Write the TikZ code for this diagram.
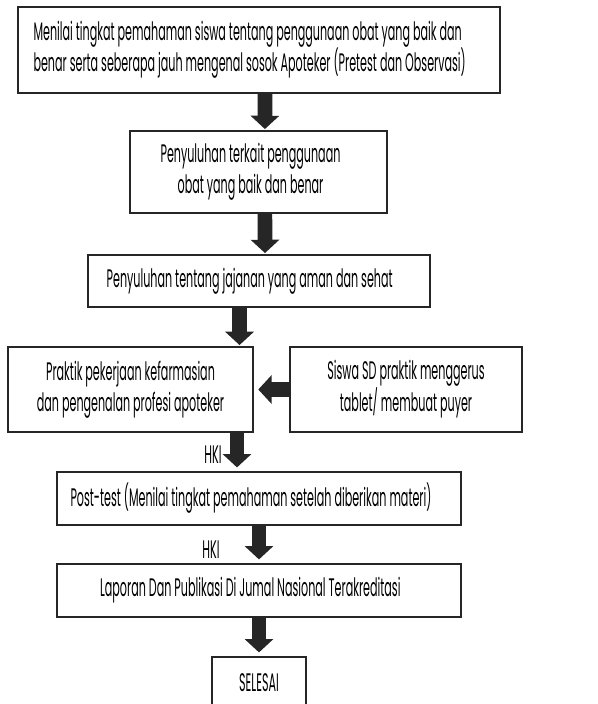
\documentclass[tikz,border=0pt]{standalone}
\usepackage{fontspec}
\setmainfont{Poppins}[FakeStretch=0.44]
\usetikzlibrary{arrows.meta, positioning}
\tikzset{
	box/.style={
		rectangle,
		draw=black!85, line width=0.9pt,
		fill=white,
		align=center,
		inner sep=2pt,
		font=\fontsize{19}{23}\selectfont
	},
	blk/.style={
		draw=black!85, line width=11pt,
		-{Triangle[width=21pt,length=10pt]}
	},
	hki/.style={font=\fontsize{19}{23}\selectfont, inner sep=0pt}
}

\begin{document}
\begin{tikzpicture}[x=0.75pt,y=-0.75pt]
	\useasboundingbox (0,0) rectangle (598,704);
	% kotak-kotak alur
	\node[box, minimum width=361.5pt, minimum height=64.5pt, align=left]	(nilai)	at (259,50)
		{Menilai tingkat pemahaman siswa tentang penggunaan obat yang baik dan\hspace*{14pt}\\benar serta seberapa jauh mengenal sosok Apoteker (Pretest dan Observasi)\hspace*{14pt}};
	\node[box, minimum width=192.75pt, minimum height=61.5pt]	(obat)	at (258.5,172)
		{Penyuluhan terkait penggunaan\hspace*{12pt}\\obat yang baik dan benar\hspace*{12pt}};
	\node[box, minimum width=256.5pt, minimum height=39pt]	(jajan)	at (259,281)
		{Penyuluhan tentang jajanan yang aman dan sehat\hspace*{14pt}};
	\node[box, minimum width=183.75pt, minimum height=63.75pt]	(praktik)	at (130.5,389.5)
		{Praktik pekerjaan kefarmasian\\dan pengenalan profesi apoteker};
	\node[box, minimum width=174pt, minimum height=63.75pt]	(gerus)	at (406,389.5)
		{Siswa SD praktik menggerus\\tablet/ membuat puyer};
	\node[box, minimum width=303pt, minimum height=39.75pt]	(post)	at (259,498.5)
		{Post-test (Menilai tingkat pemahaman setelah diberikan materi)\hspace*{12pt}};
	\node[box, minimum width=303pt, minimum height=39.75pt]	(lapor)	at (259,590.5)
		{Laporan Dan Publikasi Di Jumal Nasional Terakreditasi\hspace*{13pt}};
	\node[box, minimum width=70.5pt, minimum height=39pt]	(selesai)	at (259,683)
		{SELESAI};
	% panah
	\draw[blk]	([xshift=4.5pt]nilai.south)		--	([xshift=4.8pt,yshift=1pt]obat.north);
	\draw[blk]	([xshift=4.8pt]obat.south)		--	([xshift=4.5pt,yshift=1pt]jajan.north);
	\draw[blk]	([xshift=-14.6pt]jajan.south)	--	([xshift=-14.6pt,yshift=1pt]jajan.south |- praktik.north);
	\draw[blk]	(gerus.west)					--	([xshift=3.5pt]praktik.east);
	\draw[blk]	([xshift=-16.5pt]post.north |- praktik.south)	--	([xshift=-16.5pt,yshift=3pt]post.north);
	\draw[blk]	(post.south)					--	([yshift=3pt]lapor.north);
	\draw[blk]	(lapor.south)					--	([yshift=3pt]selesai.north);
	% label HKI
	\node[hki]	(hki1)	at (213,455)	{HKI};
	\node[hki]	(hki2)	at (211,549.5)	{HKI};
\end{tikzpicture}
\end{document}
